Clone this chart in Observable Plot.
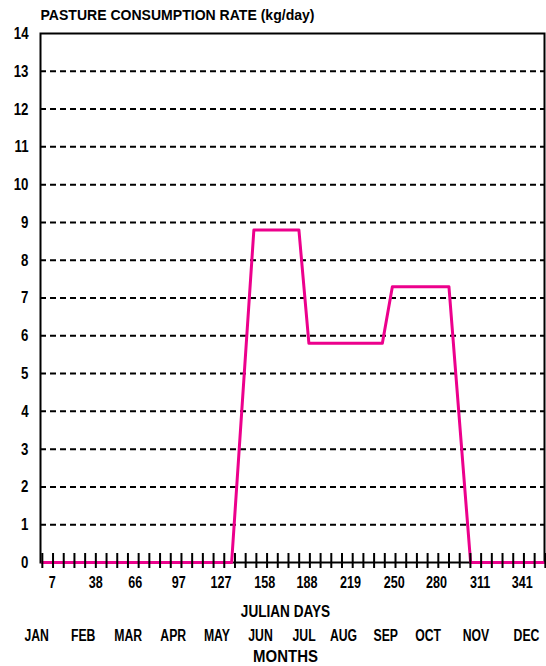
<!DOCTYPE html>
<html><head><meta charset="utf-8">
<script src="https://cdn.jsdelivr.net/npm/d3@7"></script>
<script src="https://cdn.jsdelivr.net/npm/@observablehq/plot@0.6"></script>
<style>body{margin:0;background:#fff} svg{display:block}</style>
</head><body><div id="chart"></div>
<script>
const title = "PASTURE CONSUMPTION RATE (kg/day)";
const xTitle = "JULIAN DAYS";
const monthTitle = "MONTHS";
const days = [0, 134.5, 150.3, 182.3, 189.4, 241.6, 248.7, 288.9, 304.3, 356];
const rate = [0, 0, 8.8, 8.8, 5.8, 5.8, 7.3, 7.3, 0, 0];
const dayLabels = [7, 38, 66, 97, 127, 158, 188, 219, 250, 280, 311, 341];
const monthLabels = ["JAN","FEB","MAR","APR","MAY","JUN","JUL","AUG","SEP","OCT","NOV","DEC"];
const monthPos = [-4, 29, 61, 93, 124, 155, 186, 214, 244, 274, 308, 344];
const yTicks = [0,1,2,3,4,5,6,7,8,9,10,11,12,13,14];
const quarterTicks = d3.range(48).map(i => i * 365 / 48);

const data = days.map((d, i) => ({day: d, rate: rate[i]}));
const font = '"Liberation Sans", Arial, sans-serif';

const chart = Plot.plot({
  width: 546, height: 666,
  marginTop: 33, marginLeft: 40, marginRight: 2, marginBottom: 104,
  style: {fontFamily: font, fontSize: "17px", fontWeight: "bold", color: "#000", background: "#fff", overflow: "visible"},
  x: {domain: [-1.3, 356.8]},
  y: {domain: [0, 14]},
  marks: [
    Plot.ruleY(yTicks.filter(d => d > 0 && d < 14), {stroke: "#000", strokeWidth: 2, strokeDasharray: "6,4"}),
    Plot.frame({stroke: "#000", strokeWidth: 2}),
    Plot.line(data, {x: "day", y: "rate", stroke: "#ec008c", strokeWidth: 3}),
    Plot.axisX({ticks: quarterTicks, tickSize: 15, dy: -9, text: null, label: null, stroke: "#000", strokeWidth: 2}),
    Plot.axisX({ticks: dayLabels, tickSize: 0, tickPadding: 13, label: null, tickFormat: d => String(d)}),
    Plot.axisY({ticks: yTicks, tickSize: 0, tickPadding: 12, label: null}),
    Plot.text([title], {ariaLabel: () => "title", frameAnchor: "top-left", dy: -23, lineAnchor: "top", textAnchor: "start", text: d => d, fontSize: 14}),
    Plot.text([xTitle], {ariaLabel: () => "xtitle", frameAnchor: "bottom", dx: -7, dy: 42, lineAnchor: "top", text: d => d}),
    Plot.text(monthLabels, {ariaLabel: () => "months", x: (d, i) => monthPos[i], frameAnchor: "bottom", dy: 66, lineAnchor: "top", text: d => d}),
    Plot.text([monthTitle], {ariaLabel: () => "monthtitle", frameAnchor: "bottom", dx: -7, dy: 87, lineAnchor: "top", text: d => d})
  ]
});
document.getElementById("chart").append(chart);

const squeeze = {"y-axis tick label": [0.78, "end"], "x-axis tick label": [0.74, "middle"], "xtitle": [0.8, "middle"], "months": [0.72, "middle"], "monthtitle": [0.88, "middle"]};
for (const [label, [r, anchor]] of Object.entries(squeeze)) {
  chart.querySelectorAll(`g[aria-label="${label}"] text, text[aria-label="${label}"]`).forEach(t => {
    const b = t.getBBox();
    const ax = anchor === "end" ? b.x + b.width : anchor === "start" ? b.x : b.x + b.width / 2;
    const tr = t.getAttribute("transform") || "";
    t.setAttribute("transform", `${tr} translate(${ax},0) scale(${r},1) translate(${-ax},0)`);
  });
}
chart.querySelectorAll('g[aria-label="title"] text, text[aria-label="title"]').forEach(t => {
  t.setAttribute("textLength", 274);
  t.setAttribute("lengthAdjust", "spacingAndGlyphs");
});
</script>
</body></html>
